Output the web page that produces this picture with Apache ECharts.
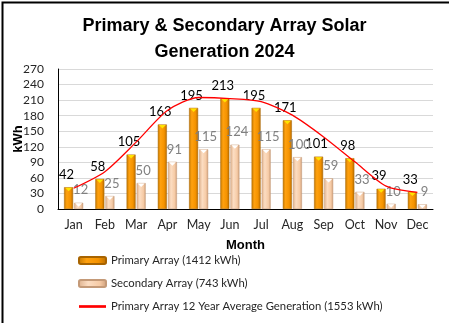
<!DOCTYPE html>
<html><head><meta charset="utf-8">
<script src="https://cdn.jsdelivr.net/npm/echarts@6/dist/echarts.min.js"></script>
<style>html,body{margin:0;padding:0;background:#fff}#c{width:449px;height:323px}</style>
</head><body><div id="c"></div>
<script>
const months = ['Jan','Feb','Mar','Apr','May','Jun','Jul','Aug','Sep','Oct','Nov','Dec'];
const primary = [42,58,105,163,195,213,195,171,101,98,39,33];
const secondary = [12,25,50,91,115,124,115,100,59,33,10,9];
const average = [40,72,129,190,215,213,207,181,139,91,44,32];
const yTicks = {min:0, max:270, interval:30};
const titleText = 'Primary & Secondary Array Solar\nGeneration 2024';
const names = ['Primary Array (1412 kWh)','Secondary Array (743 kWh)','Primary Array 12 Year Average Generation (1553 kWh)'];

const FONT = 'Lato';
const BOLD = '"Liberation Sans"';
const BW = 9;
const chart = echarts.init(document.getElementById('c'), null, {renderer:'canvas'});
const orangeGrad = new echarts.graphic.LinearGradient(0,0,1,0,[
  {offset:0,color:'#C47800'},{offset:0.3,color:'#FFA10F'},{offset:0.7,color:'#F59300'},{offset:1,color:'#B86C00'}]);
const peachGrad = new echarts.graphic.LinearGradient(0,0,1,0,[
  {offset:0,color:'#DDB08C'},{offset:0.35,color:'#FCDDC2'},{offset:0.75,color:'#F6CBA6'},{offset:1,color:'#CC9C78'}]);
function capSeries(data, side, color){
  return {type:'custom',data:data.map((v,i)=>[i,v]),z:4,silent:true,
    renderItem:function(params, api){
      const p = api.coord([api.value(0), api.value(1)]);
      const cx = p[0] + side*(BW+1)/2;
      const y = p[1];
      return {type:'polygon',shape:{points:[[cx-BW/2+1,y+0.5],[cx+BW/2-1,y+0.5],[cx,y+4]]},
        style:{fill:color}};
    }};
}
chart.setOption({
  animation:false,
  textStyle:{fontFamily:FONT},
  title:{text:titleText,left:'center',top:8,
    textStyle:{fontFamily:BOLD,fontWeight:'bold',fontSize:18,lineHeight:26,color:'#000'}},
  grid:{left:58,right:16,top:69,bottom:114,outerBoundsMode:'none',containLabel:false},
  legend:{orient:'vertical',left:73,top:250,itemWidth:27,itemHeight:7,itemGap:12,
    textStyle:{fontFamily:FONT,fontSize:11.3,color:'#262626'},
    data:[
      {name:names[0],itemStyle:{color:orangeGrad}},
      {name:names[1],itemStyle:{color:peachGrad}},
      {name:names[2],icon:'path://M0,0 L10,0 L10,1 L0,1 Z',itemStyle:{color:'#FF0000'}}
    ]},
  xAxis:{type:'category',data:months,boundaryGap:true,
    name:'Month',nameLocation:'middle',nameGap:30,nameMoveOverlap:false,
    nameTextStyle:{fontFamily:BOLD,fontWeight:'bold',fontSize:13,color:'#000'},
    axisLine:{lineStyle:{color:'#000',width:1}},axisTick:{show:false},
    axisLabel:{interval:0,fontFamily:FONT,fontSize:12.5,color:'#262626',margin:9}},
  yAxis:{type:'value',min:yTicks.min,max:yTicks.max,interval:yTicks.interval,
    name:'kWh',nameLocation:'middle',nameGap:33,nameRotate:90,nameMoveOverlap:false,
    nameTextStyle:{fontFamily:BOLD,fontWeight:'bold',fontSize:13,color:'#000'},
    axisLine:{show:true,lineStyle:{color:'#000',width:1}},axisTick:{show:false},
    axisLabel:{fontFamily:FONT,fontSize:12,color:'#262626',margin:14},
    splitLine:{lineStyle:{color:'#D9D9D9'}}},
  series:[
    {name:names[0],type:'bar',data:primary,barWidth:BW,barGap:'12%',
      itemStyle:{color:orangeGrad,borderColor:'#A86400',borderWidth:0.5},
      label:{show:true,position:'top',distance:6,offset:[-2,0],fontFamily:FONT,fontSize:13,color:'#000'}},
    {name:names[1],type:'bar',data:secondary,barWidth:BW,
      itemStyle:{color:peachGrad,borderColor:'#C49A78',borderWidth:0.5},
      label:{show:true,position:'top',distance:6,offset:[2,0],fontFamily:FONT,fontSize:13,color:'#808080'}},
    capSeries(primary,-1,'#FFE400'),
    capSeries(secondary,1,'#FFFFFF'),
    {name:names[2],type:'line',data:average,smooth:0.25,symbol:'none',z:5,
      lineStyle:{color:'#FF0000',width:1.3},itemStyle:{color:'#FF0000'}}
  ],
  graphic:[{type:'rect',left:0,top:0,shape:{width:448,height:322},
    style:{fill:'none',stroke:'#000',lineWidth:2},silent:true}]
});
</script></body></html>
